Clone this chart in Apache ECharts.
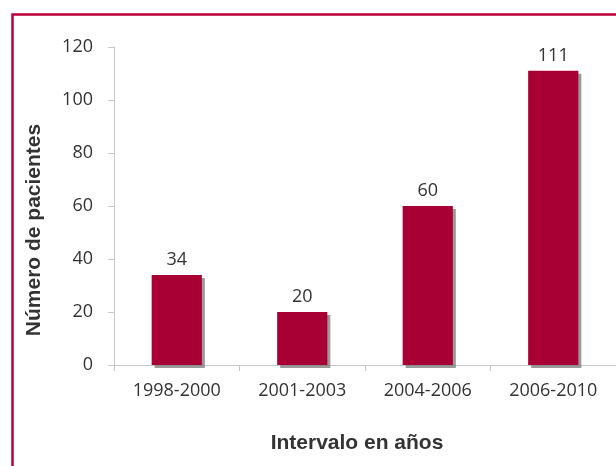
<!DOCTYPE html>
<html><head><meta charset="utf-8">
<script src="https://cdn.jsdelivr.net/npm/echarts@6/dist/echarts.min.js"></script>
<style>html,body{margin:0;padding:0;background:#fff}#c{width:616px;height:466px}</style>
</head><body><div id="c"></div>
<script>
const categories = ['1998-2000', '2001-2003', '2004-2006', '2006-2010'];
const pacientes = [34, 20, 60, 111];
const yTicks = [0, 20, 40, 60, 80, 100, 120];

const chart = echarts.init(document.getElementById('c'), null, {renderer: 'canvas'});
chart.setOption({
  animation: false,
  backgroundColor: '#fff',
  graphic: [{
    type: 'rect', left: 10, top: 12,
    shape: {x: 0, y: 0, width: 620, height: 470},
    style: {fill: 'none', stroke: '#BC0039', lineWidth: 2.5}, z: 100
  }],
  grid: {left: 114, right: -2, top: 47, bottom: 101},
  xAxis: {
    type: 'category', data: categories,
    name: 'Intervalo en años', nameLocation: 'middle', nameGap: 68,
    nameTextStyle: {fontFamily: 'Liberation Sans', fontWeight: 'bold', fontSize: 21, color: '#333', padding: [0, 16, 0, 0]},
    axisLine: {lineStyle: {color: '#C8C8C8', width: 1}},
    axisTick: {show: true, length: 6, lineStyle: {color: '#C8C8C8'}},
    axisLabel: {fontFamily: 'Open Sans', fontSize: 18, color: '#333', margin: 17}
  },
  yAxis: {
    type: 'value', min: yTicks[0], max: yTicks[yTicks.length - 1], interval: 20,
    name: 'Número de pacientes', nameLocation: 'middle', nameGap: 69, nameRotate: 90,
    nameTextStyle: {fontFamily: 'Liberation Sans', fontWeight: 'bold', fontSize: 21, color: '#333', padding: [0, 48, 0, 0]},
    splitLine: {show: false},
    axisLine: {show: true, lineStyle: {color: '#C8C8C8', width: 1}},
    axisTick: {show: true, length: 6, lineStyle: {color: '#C8C8C8'}},
    axisLabel: {fontFamily: 'Open Sans', fontSize: 18, color: '#333', margin: 21}
  },
  series: [{
    type: 'bar', data: pacientes, barWidth: '40%',
    itemStyle: {color: '#A80034', shadowColor: 'rgba(120,120,120,0.75)', shadowOffsetX: 3, shadowOffsetY: 3, shadowBlur: 0},
    label: {show: true, position: 'top', distance: 6, fontFamily: 'Open Sans', fontSize: 18, color: '#333'}
  }]
});
</script></body></html>
